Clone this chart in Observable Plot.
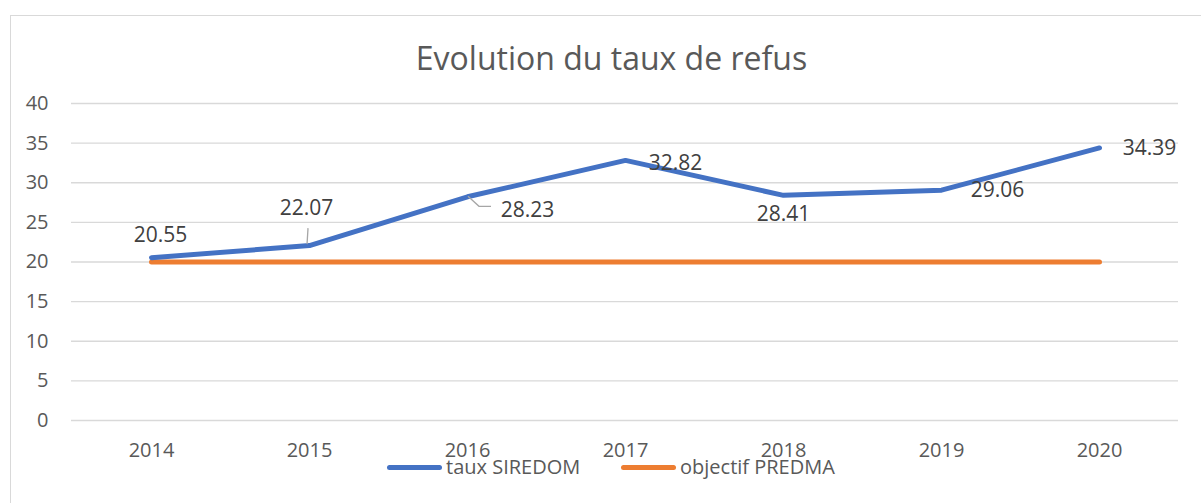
<!DOCTYPE html>
<html>
<head>
<meta charset="utf-8">
<script src="https://cdn.jsdelivr.net/npm/d3@7"></script>
<script src="https://cdn.jsdelivr.net/npm/@observablehq/plot@0.6"></script>
<style>
  html, body { margin: 0; padding: 0; background: #fff; overflow: hidden; width: 1201px; height: 503px; }
  #wrap { position: relative; width: 1201px; height: 503px; overflow: hidden; font-family: "Open Sans", sans-serif; }
  #frame { position: absolute; left: 10px; top: 15px; width: 1400px; height: 700px; border: 1.5px solid #d9d9d9; box-sizing: border-box; }
  #chart { position: absolute; left: 0; top: 0; }
  #title { position: absolute; left: 0; width: 1223px; top: 37px; text-align: center; font-size: 32px; color: #595959; line-height: 42px; }
  #legend { position: absolute; top: 455px; left: 0; width: 1201px; height: 26px; color: #595959; font-size: 20px; }
  .sw { position: absolute; top: 10px; height: 5px; border-radius: 3px; width: 55px; }
  .lt { position: absolute; top: -1px; line-height: 26px; white-space: nowrap; }
</style>
</head>
<body>
<div id="wrap">
  <div id="frame"></div>
  <div id="chart"></div>
  <div id="title">Evolution du taux de refus</div>
  <div id="legend"></div>
</div>
<script>
const years = ["2014", "2015", "2016", "2017", "2018", "2019", "2020"];
const tauxSiredom = [20.55, 22.07, 28.23, 32.82, 28.41, 29.06, 34.39];
const objectifPredma = [20, 20, 20, 20, 20, 20, 20];
const yTicks = [0, 5, 10, 15, 20, 25, 30, 35, 40];
const seriesNames = ["taux SIREDOM", "objectif PREDMA"];

const blue = "#4472C4";
const orange = "#ED7D31";

// label placement (pixel offsets from each point), layout only
const labelOffsets = [[9, -22], [-3, -37], [60, 13], [50, 3], [0, 19], [56, 0], [50, 0]];

const siredom = years.map((y, i) => ({year: y, value: tauxSiredom[i]}));
const predma = years.map((y, i) => ({year: y, value: objectifPredma[i]}));

function leader(idx, pts) {
  return (index, scales) => {
    const x = scales.x(years[idx]), y = scales.y(tauxSiredom[idx]);
    return d3.create("svg:path")
      .attr("d", d3.line()(pts.map(([dx, dy]) => [x + dx, y + dy])))
      .attr("fill", "none")
      .attr("stroke", "#a6a6a6")
      .attr("stroke-width", 1.3)
      .node();
  };
}

const labelMarks = siredom.map((d, i) => Plot.text([d], {
  x: "year", y: "value", text: (d) => d.value.toFixed(2),
  dx: labelOffsets[i][0], dy: labelOffsets[i][1],
  fill: "#404040", fontSize: 21
}));

const chart = Plot.plot({
  width: 1201,
  height: 503,
  marginLeft: 71,
  marginRight: 23,
  marginTop: 103,
  marginBottom: 83,
  style: {fontFamily: "Open Sans, sans-serif", fontSize: "20px", color: "#595959", background: "transparent"},
  x: {type: "point", domain: years, padding: 0.5, label: null},
  y: {domain: [0, 40], label: null},
  marks: [
    Plot.ruleY(yTicks, {stroke: "#d9d9d9", strokeWidth: 1.3}),
    Plot.axisY(yTicks, {tickSize: 0, tickPadding: 23, label: null, fill: "#595959", fontSize: 20}),
    Plot.axisX({tickSize: 0, tickPadding: 22, label: null, fill: "#595959", fontSize: 20}),
    Plot.line(predma, {x: "year", y: "value", stroke: orange, strokeWidth: 5, strokeLinecap: "round"}),
    Plot.line(siredom, {x: "year", y: "value", stroke: blue, strokeWidth: 5, strokeLinecap: "round", strokeLinejoin: "round"}),
    leader(1, [[-1, -17], [-2, -1]]),
    leader(2, [[1, 0], [12, 10], [24, 10]]),
    ...labelMarks
  ]
});
document.getElementById("chart").appendChild(chart);

const legend = document.getElementById("legend");
const legendItems = [
  {name: seriesNames[0], color: blue, sw: 387, tx: 446},
  {name: seriesNames[1], color: orange, sw: 621, tx: 680}
];
legendItems.forEach(it => {
  const s = document.createElement("div");
  s.className = "sw"; s.style.left = it.sw + "px"; s.style.background = it.color;
  legend.appendChild(s);
  const t = document.createElement("div");
  t.className = "lt"; t.style.left = it.tx + "px"; t.textContent = it.name;
  legend.appendChild(t);
});
</script>
</body>
</html>
